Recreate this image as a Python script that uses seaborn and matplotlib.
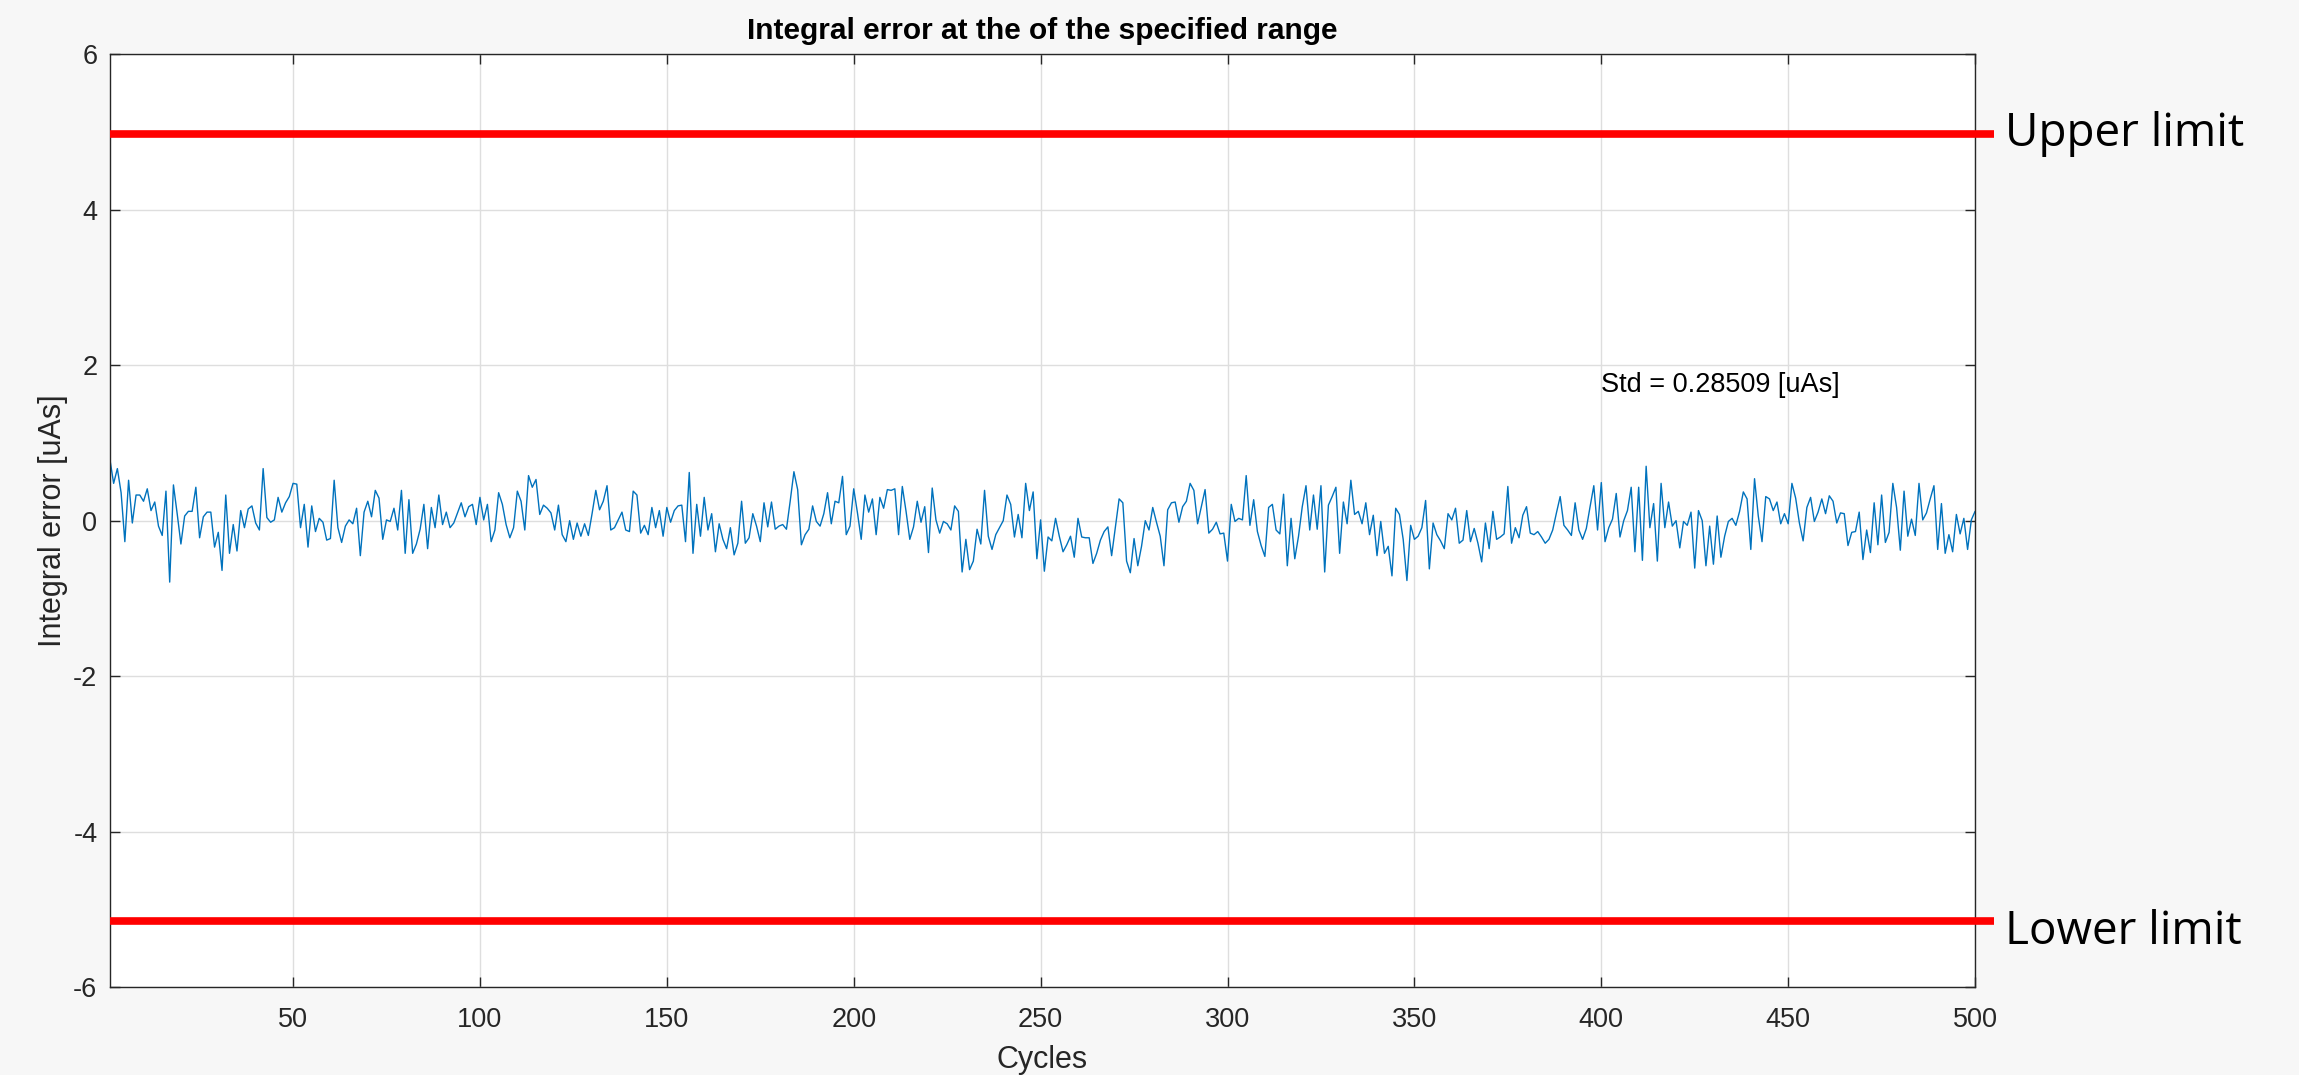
import numpy as np
import pandas as pd
import matplotlib
matplotlib.use("Agg")
import matplotlib.pyplot as plt
import seaborn as sns

# ---- data ----
err_001_042 = [0.79, 0.48, 0.67, 0.36, -0.27, 0.52, -0.03, 0.33, 0.33, 0.25,
               0.41, 0.13, 0.24, -0.07, -0.19, 0.38, -0.79, 0.46, 0.09, -0.30,
               0.06, 0.12, 0.12, 0.43, -0.22, 0.05, 0.11, 0.11, -0.34, -0.15,
               -0.64, 0.33, -0.42, -0.05, -0.39, 0.13, -0.09, 0.15, 0.19, -0.03,
               -0.12, 0.67]
err_043_082 = [0.04, -0.02, 0.01, 0.30, 0.11, 0.23, 0.31, 0.48, 0.47, -0.09,
               0.21, -0.34, 0.19, -0.14, 0.03, -0.02, -0.25, -0.23, 0.52, -0.09,
               -0.28, -0.07, 0.01, -0.04, 0.16, -0.45, 0.11, 0.25, 0.05, 0.39,
               0.29, -0.24, 0.01, -0.01, 0.16, -0.12, 0.39, -0.42, 0.27, -0.42]
err_083_125 = [-0.30, -0.11, 0.21, -0.36, 0.17, -0.09, 0.33, -0.05, 0.11, -0.09,
               -0.03, 0.10, 0.23, 0.05, 0.18, 0.21, -0.05, 0.30, 0.01, 0.21,
               -0.27, -0.12, 0.36, 0.21, -0.05, -0.22, -0.09, 0.38, 0.25, -0.12,
               0.58, 0.43, 0.53, 0.08, 0.20, 0.16, 0.10, -0.12, 0.20, -0.18,
               -0.27, 0.00, -0.24]
err_126_166 = [-0.03, -0.20, -0.04, -0.19, 0.09, 0.39, 0.14, 0.25, 0.45, -0.12,
               -0.09, 0.01, 0.11, -0.12, -0.14, 0.38, 0.33, -0.16, -0.06, -0.18,
               0.17, -0.09, 0.13, -0.20, 0.17, -0.02, 0.13, 0.19, 0.20, -0.27,
               0.62, -0.42, 0.21, -0.20, 0.30, -0.12, 0.09, -0.40, -0.04, -0.24,
               -0.36]
err_167_206 = [-0.09, -0.44, -0.29, 0.25, -0.29, -0.22, 0.09, -0.07, -0.27, 0.23,
               -0.08, 0.24, -0.11, -0.07, -0.05, -0.11, 0.25, 0.63, 0.40, -0.31,
               -0.18, -0.11, 0.19, -0.01, -0.07, 0.09, 0.36, -0.04, 0.25, 0.23,
               0.57, -0.18, -0.07, 0.41, 0.10, -0.24, 0.33, 0.11, 0.28, -0.18]
err_207_250 = [0.30, 0.16, 0.40, 0.39, 0.41, -0.18, 0.44, 0.12, -0.24, -0.08,
               0.25, -0.02, 0.18, -0.41, 0.42, 0.01, -0.16, -0.01, -0.04, -0.12,
               0.19, 0.12, -0.66, -0.24, -0.63, -0.52, -0.11, -0.30, 0.39, -0.20,
               -0.37, -0.18, -0.09, 0.00, 0.33, 0.21, -0.21, 0.08, -0.22, 0.48,
               0.13, 0.37, -0.49, 0.01]
err_251_290 = [-0.65, -0.21, -0.26, 0.03, -0.20, -0.40, -0.31, -0.20, -0.47, 0.03,
               -0.21, -0.22, -0.22, -0.55, -0.42, -0.25, -0.14, -0.08, -0.45, -0.08,
               0.28, 0.23, -0.52, -0.67, -0.23, -0.58, -0.33, 0.00, -0.12, 0.17,
               -0.02, -0.20, -0.58, 0.14, 0.23, 0.24, -0.02, 0.18, 0.25, 0.48]
err_291_333 = [0.39, -0.04, 0.18, 0.40, -0.16, -0.11, -0.02, -0.17, -0.16, -0.52,
               0.21, -0.01, 0.03, 0.01, 0.58, -0.06, 0.27, -0.14, -0.32, -0.46,
               0.17, 0.21, -0.12, -0.17, 0.34, -0.58, 0.03, -0.49, -0.20, 0.18,
               0.45, -0.12, 0.33, -0.11, 0.45, -0.66, 0.20, 0.31, 0.43, -0.42,
               0.24, -0.04, 0.52]
err_334_374 = [0.08, 0.12, -0.04, 0.23, -0.18, 0.07, -0.45, -0.01, -0.42, -0.33,
               -0.71, 0.16, 0.08, -0.24, -0.77, -0.06, -0.24, -0.20, -0.09, 0.26,
               -0.62, -0.03, -0.18, -0.26, -0.36, 0.09, 0.01, 0.16, -0.29, -0.25,
               0.13, -0.27, -0.10, -0.29, -0.53, -0.03, -0.36, 0.12, -0.24, -0.21,
               -0.17]
err_375_415 = [0.44, -0.29, -0.09, -0.22, 0.07, 0.18, -0.16, -0.18, -0.14, -0.21,
               -0.29, -0.24, -0.12, 0.10, 0.31, -0.06, -0.12, -0.19, 0.23, -0.12,
               -0.24, -0.10, 0.18, 0.45, -0.12, 0.49, -0.27, -0.09, 0.02, 0.35,
               -0.21, 0.00, 0.13, 0.43, -0.40, 0.43, -0.51, 0.70, -0.09, 0.22,
               -0.52]
err_416_456 = [0.48, -0.09, 0.24, -0.07, 0.00, -0.35, -0.01, -0.06, 0.11, -0.61,
               0.13, 0.00, -0.58, -0.07, -0.56, 0.06, -0.47, -0.20, -0.01, 0.03,
               -0.06, 0.12, 0.37, 0.28, -0.37, 0.54, 0.06, -0.27, 0.31, 0.28,
               0.13, 0.24, -0.04, 0.09, -0.04, 0.48, 0.29, -0.03, -0.26, 0.17,
               0.30]
err_457_500 = [-0.01, 0.11, 0.28, 0.09, 0.32, 0.25, -0.03, 0.10, 0.09, -0.32,
               -0.15, -0.14, 0.11, -0.50, -0.12, -0.41, 0.23, -0.31, 0.33, -0.28,
               -0.15, 0.48, 0.17, -0.38, 0.38, -0.20, 0.02, -0.19, 0.48, 0.01,
               0.10, 0.28, 0.45, -0.37, 0.22, -0.42, -0.18, -0.40, 0.08, -0.17,
               0.03, -0.37, 0.01, 0.12]

integral_error = (err_001_042 + err_043_082 + err_083_125 + err_126_166 +
                  err_167_206 + err_207_250 + err_251_290 + err_291_333 +
                  err_334_374 + err_375_415 + err_416_456 + err_457_500)
cycles = list(range(1, len(integral_error) + 1))

upper_limit = 4.98
lower_limit = -5.15
std_label = "Std = 0.28509 [uAs]"
x_ticks = [50, 100, 150, 200, 250, 300, 350, 400, 450, 500]
y_ticks = [-6, -4, -2, 0, 2, 4, 6]

df = pd.DataFrame({"Cycles": cycles, "Integral error": integral_error})

# ---- style ----
sns.set_theme(style="whitegrid")
plt.rcParams["font.family"] = ["Liberation Sans", "DejaVu Sans"]
plt.rcParams["axes.unicode_minus"] = False

fig = plt.figure(figsize=(22.99, 10.75), dpi=100, facecolor="#f7f7f7")
ax = fig.add_axes([0.0478, 0.0818, 0.8113, 0.8677])
ax.set_facecolor("white")

sns.lineplot(data=df, x="Cycles", y="Integral error", ax=ax,
             color="#0072BD", linewidth=1.0)

ax.set_xlim(1, 500)
ax.set_ylim(-6, 6)
ax.set_xticks(x_ticks)
ax.set_yticks(y_ticks)
ax.tick_params(axis="both", which="both", direction="in", length=7,
               width=1.0, colors="#262626", labelsize=19.5,
               top=True, right=True, bottom=True, left=True)
ax.tick_params(axis="x", pad=14)
ax.tick_params(axis="y", pad=9)
for lbl in ax.get_xticklabels() + ax.get_yticklabels():
    lbl.set_color("#262626")
ax.grid(True, color="#dedede", linewidth=1.0)
for sp in ax.spines.values():
    sp.set_visible(True)
    sp.set_color("#262626")
    sp.set_linewidth(1.0)

ax.set_xlabel("Cycles", fontsize=22, color="#262626", labelpad=9)
ax.set_ylabel("Integral error [uAs]", fontsize=22, color="#262626", labelpad=4)
ax.set_title("Integral error at the of the specified range", fontsize=21.5,
             fontweight="bold", color="black", pad=11)

ax.text(400, 1.75, std_label, fontsize=19.5, color="black",
        ha="left", va="center")

# limit lines (extend slightly past the right edge of the axes)
for yv, lab, dy in [(upper_limit, "Upper limit", 0.0),
                    (lower_limit, "Lower limit", -0.14)]:
    ax.plot([1, 505], [yv, yv], color="red", linewidth=5.5,
            solid_capstyle="butt", clip_on=False, zorder=5)
    ax.text(508, yv + dy, lab, fontsize=33, family=["Open Sans", "DejaVu Sans"],
            color="black", ha="left", va="center", clip_on=False)

fig.savefig("out.png", dpi=100, facecolor=fig.get_facecolor())
